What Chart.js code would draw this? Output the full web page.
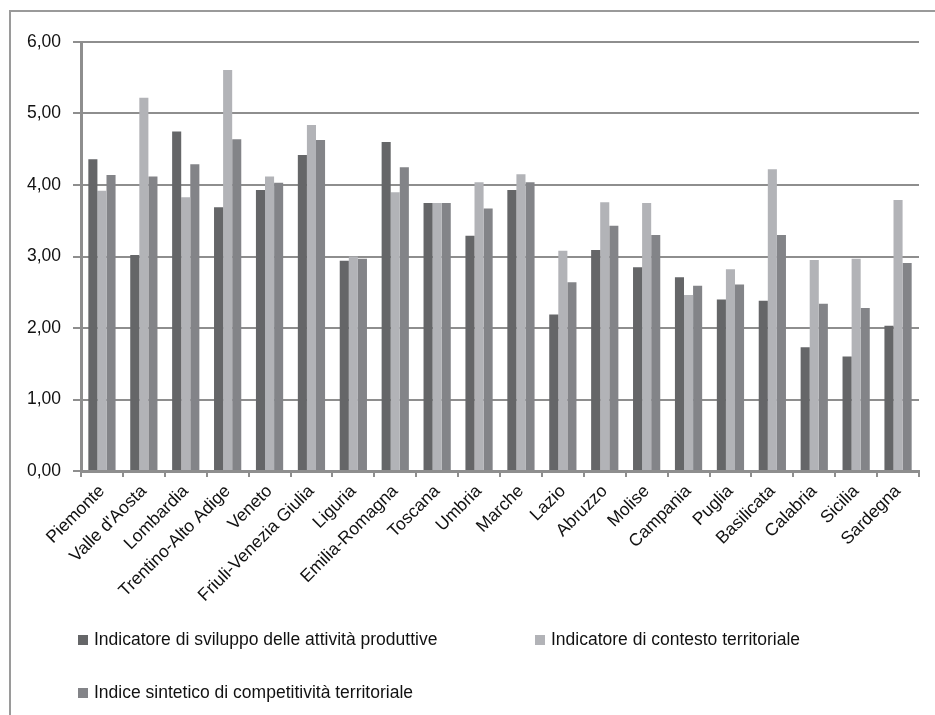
<!DOCTYPE html>
<html>
<head>
<meta charset="utf-8">
<script src="https://cdn.jsdelivr.net/npm/chart.js@4"></script>
<style>
  html, body { margin: 0; padding: 0; background: #fff; }
  #wrap { position: relative; width: 935px; height: 715px; overflow: hidden; }
  #frame { position: absolute; left: 9px; top: 10px; right: -10px; bottom: -10px;
           border-top: 2px solid #9a9a9a; border-left: 2px solid #9a9a9a; }
  #chart { position: absolute; left: 0; top: 0; }
  .leg { position: absolute; font-family: "Liberation Sans", Arial, sans-serif; font-size: 17.5px;
         color: #111; white-space: nowrap; line-height: 20px; }
  .leg span { display: inline-block; width: 10px; height: 10px; margin-right: 6px; vertical-align: 0px; }
</style>
</head>
<body>
<div id="wrap">
  <div id="frame"></div>
  <canvas id="chart" width="935" height="715"></canvas>
  <div id="legend"></div>
</div>
<script>
const regions = ["Piemonte","Valle d'Aosta","Lombardia","Trentino-Alto Adige","Veneto","Friuli-Venezia Giulia","Liguria","Emilia-Romagna","Toscana","Umbria","Marche","Lazio","Abruzzo","Molise","Campania","Puglia","Basilicata","Calabria","Sicilia","Sardegna"];

const seriesNames = [
    "Indicatore di sviluppo delle attività produttive",
    "Indicatore di contesto territoriale",
    "Indice sintetico di competitività territoriale"
];

const sviluppo    = [4.36, 3.02, 4.75, 3.69, 3.93, 4.42, 2.94, 4.60, 3.75, 3.29, 3.93, 2.19, 3.09, 2.85, 2.71, 2.40, 2.38, 1.73, 1.60, 2.03];
const contesto    = [3.92, 5.22, 3.83, 5.61, 4.12, 4.84, 3.00, 3.90, 3.75, 4.04, 4.15, 3.08, 3.76, 3.75, 2.46, 2.82, 4.22, 2.95, 2.97, 3.79];
const competitiv  = [4.14, 4.12, 4.29, 4.64, 4.03, 4.63, 2.97, 4.25, 3.75, 3.67, 4.04, 2.64, 3.43, 3.30, 2.59, 2.61, 3.30, 2.34, 2.28, 2.91];

const colors = ["#656668", "#b2b3b7", "#838488"];

const yMin = 0, yMax = 6, yStep = 1;

Chart.defaults.font.family = "'Liberation Sans', Arial, sans-serif";
Chart.defaults.font.size = 17.5;
Chart.defaults.color = "#111";

const gridColor = "#8e8e8e";

let chart = new Chart(document.getElementById("chart").getContext("2d"), {
    type: "bar",
    data: {
        labels: regions,
        datasets: [sviluppo, contesto, competitiv].map((d, i) => ({
            label: seriesNames[i],
            data: d,
            backgroundColor: colors[i],
            borderWidth: 0,
            categoryPercentage: 0.65,
            barPercentage: 1
        }))
    },
    options: {
        responsive: false,
        animation: false,
        layout: { padding: { left: 0, top: 42, right: 16, bottom: 0 } },
        plugins: { legend: { display: false }, tooltip: { enabled: false } },
        scales: {
            x: {
                grid: { drawOnChartArea: false, drawTicks: true, tickLength: 6, color: gridColor, lineWidth: 2 },
                border: { color: gridColor, width: 3 },
                ticks: { autoSkip: false, minRotation: 45, maxRotation: 45, padding: 4, color: "#111" },
                afterFit: s => { s.height = 715 - 471; }
            },
            y: {
                min: yMin,
                max: yMax,
                grid: { color: gridColor, lineWidth: 2, tickLength: 8 },
                border: { color: gridColor, width: 3 },
                ticks: {
                    stepSize: yStep,
                    padding: 12,
                    color: "#111",
                    callback: v => v.toFixed(2).replace(".", ",")
                },
                afterFit: s => { s.width = 81; }
            }
        }
    }
});

// legend laid out in two columns like the original
const legPos = [[78, 629], [535, 629], [78, 682]];
const leg = document.getElementById("legend");
seriesNames.forEach((name, i) => {
    const el = document.createElement("div");
    el.className = "leg";
    el.style.left = legPos[i][0] + "px";
    el.style.top = legPos[i][1] + "px";
    el.innerHTML = '<span style="background:' + colors[i] + '"></span>' + name;
    leg.appendChild(el);
});
</script>
</body>
</html>
